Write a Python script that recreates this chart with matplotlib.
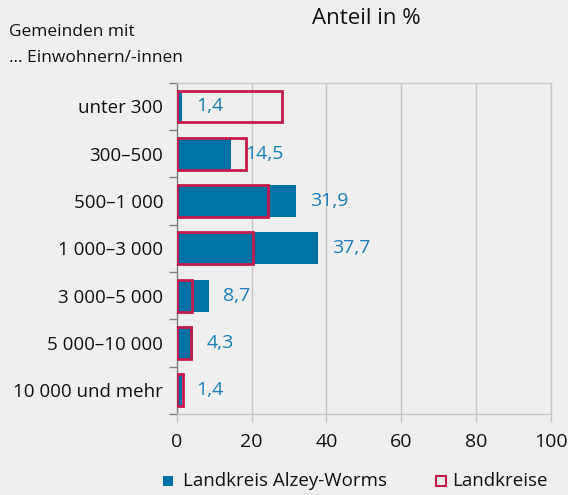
import matplotlib
matplotlib.use("Agg")
import matplotlib.pyplot as plt
from matplotlib.patches import Rectangle

categories = ["unter 300", "300–500", "500–1 000", "1 000–3 000",
              "3 000–5 000", "5 000–10 000", "10 000 und mehr"]
alzey = [1.4, 14.5, 31.9, 37.7, 8.7, 4.3, 1.4]
landkreise = [28.2, 18.5, 24.4, 20.3, 4.1, 3.7, 1.6]
value_labels = ["1,4", "14,5", "31,9", "37,7", "8,7", "4,3", "1,4"]
xticks = [0, 20, 40, 60, 80, 100]

BG = "#eeefee"
BLUE = "#0071a4"
TXTBLUE = "#1a7fb6"
RED = "#c41a4b"
GRID = "#c6c6c6"
TXT = "#111111"

plt.rcParams["font.family"] = ["Open Sans", "DejaVu Sans"]

fig = plt.figure(figsize=(5.68, 4.95), dpi=100, facecolor=BG)
W, H = 568, 495
ax = fig.add_axes([177 / W, 1 - 414 / H, (550.5 - 177) / W, (414 - 82.7) / H])
ax.set_facecolor(BG)

y = list(range(len(categories)))
ax.barh(y, alzey, height=0.67, color=BLUE, zorder=3)
ax.barh(y, landkreise, height=0.67, facecolor="none", edgecolor=RED,
        linewidth=2.0, zorder=4)

for yi, v, lab in zip(y, alzey, value_labels):
    ax.annotate(lab, (v, yi), xytext=(10, 0), textcoords="offset points",
                va="center", ha="left", color=TXTBLUE, fontsize=14, zorder=5)

ax.set_xlim(0, 100)
ax.set_ylim(len(categories) - 0.5, -0.5)
ax.set_xticks(xticks)
ax.set_xticklabels([str(t) for t in xticks], fontsize=14, color=TXT)
ax.set_yticks(y)
ax.set_yticklabels(categories, fontsize=13.5, color=TXT)
ax.tick_params(axis="y", length=0, pad=10)
ax.set_yticks([i - 0.5 for i in range(len(categories) + 1)], minor=True)
ax.tick_params(axis="y", which="minor", length=6, color="#808080", width=1)
ax.tick_params(axis="x", length=6, color=GRID, width=1, pad=8)

ax.grid(axis="x", color=GRID, linewidth=1, zorder=0)
for s in ["top", "right", "bottom"]:
    ax.spines[s].set_color(GRID)
    ax.spines[s].set_linewidth(1)
ax.spines["left"].set_color("#808080")
ax.spines["left"].set_linewidth(1)

fig.text(366 / W, 1 - 18 / H, "Anteil in %", ha="center", va="center",
         fontsize=16, color=TXT)
fig.text(9 / W, 1 - 32 / H, "Gemeinden mit", ha="left", va="center",
         fontsize=12.5, color=TXT)
fig.text(9 / W, 1 - 58 / H, "... Einwohnern/-innen", ha="left", va="center",
         fontsize=12.5, color=TXT)

# legend
fig.patches.append(Rectangle((163 / W, 1 - 486 / H), 10 / W, 10 / H,
                             transform=fig.transFigure, facecolor=BLUE,
                             edgecolor="none"))
fig.text(183 / W, 1 - 481 / H, "Landkreis Alzey-Worms", ha="left",
         va="center", fontsize=13.5, color=TXT)
fig.patches.append(Rectangle((436 / W, 1 - 486 / H), 10 / W, 10 / H,
                             transform=fig.transFigure, facecolor="none",
                             edgecolor=RED, linewidth=1.5))
fig.text(452 / W, 1 - 481 / H, "Landkreise", ha="left", va="center",
         fontsize=13.5, color=TXT)

fig.savefig("out.png", dpi=100, facecolor=BG)
